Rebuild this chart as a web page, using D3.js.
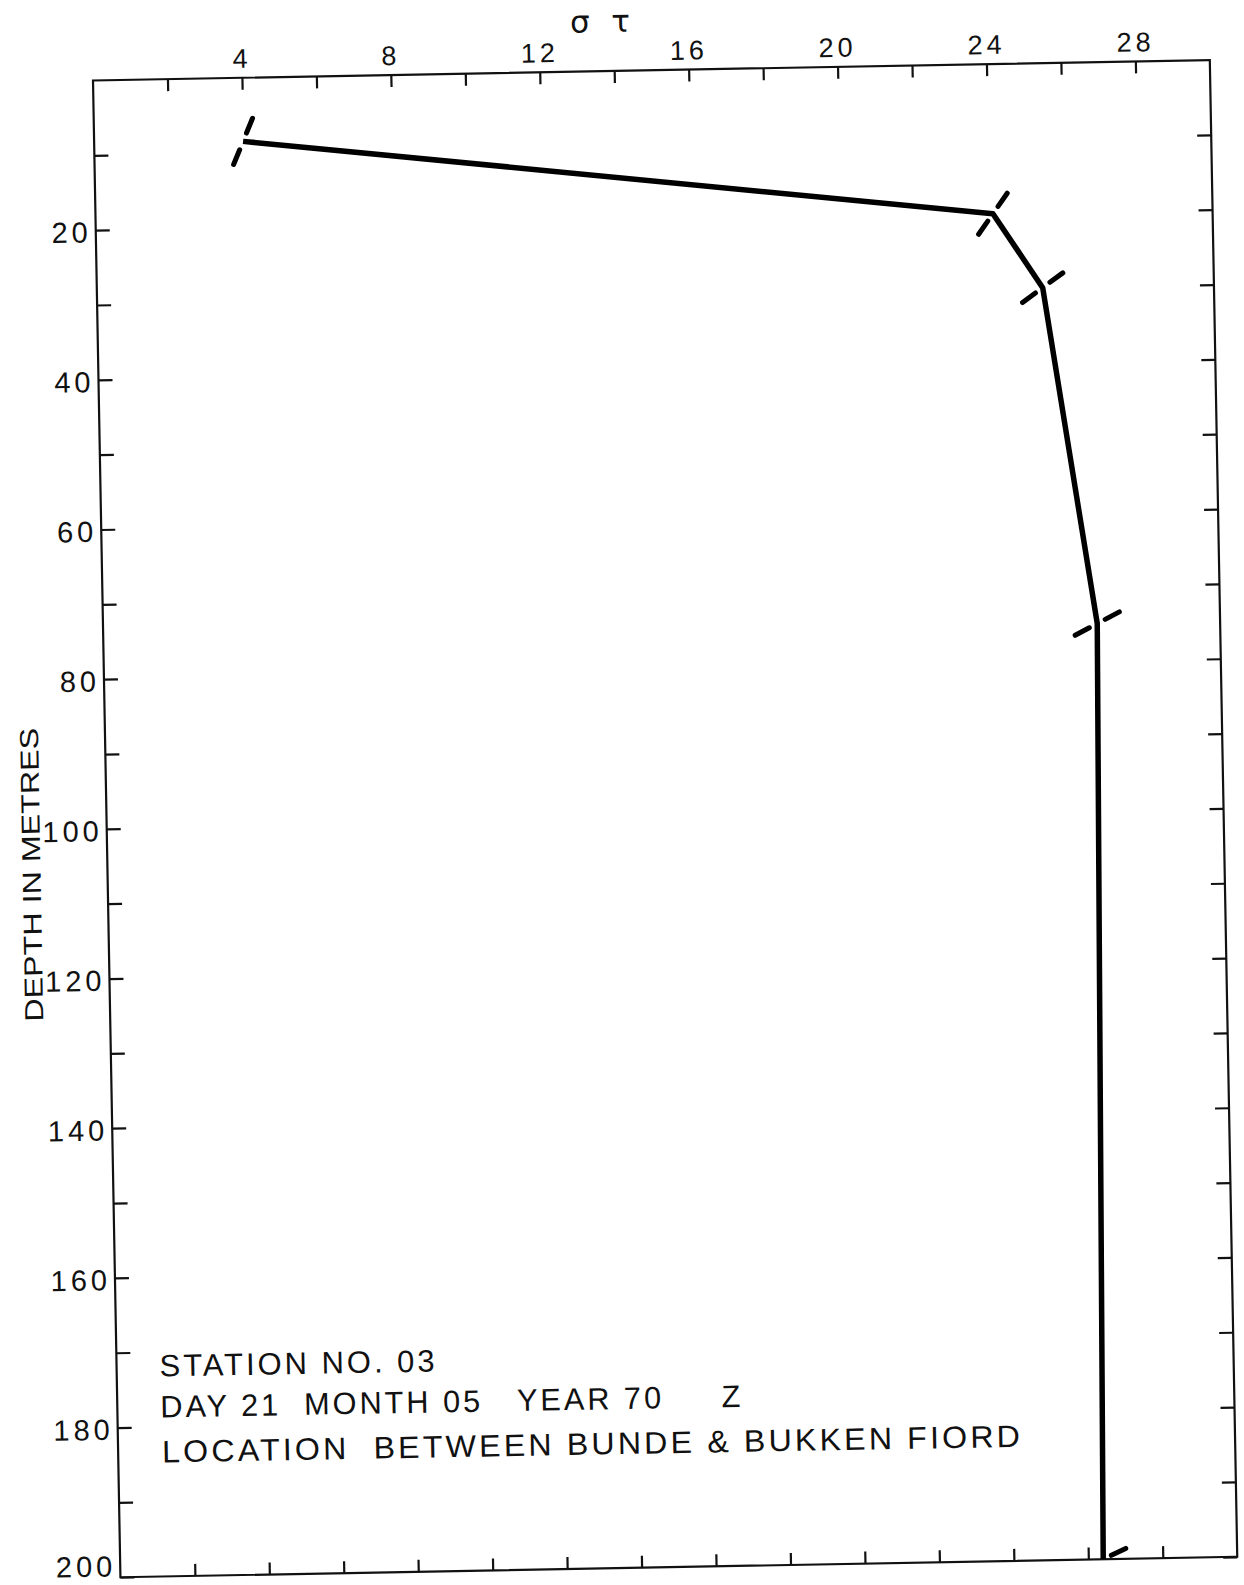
<!DOCTYPE html>
<html>
<head>
<meta charset="utf-8">
<script src="https://cdn.jsdelivr.net/npm/d3@7/dist/d3.min.js"></script>
<style>
  html, body { margin: 0; padding: 0; background: #fff; }
  svg { display: block; }
  text { font-family: "Liberation Sans", "DejaVu Sans", sans-serif; fill: #111; }
</style>
</head>
<body>
<svg id="chart" width="1244" height="1585"></svg>
<script>
// Sigma-t profile, station 03
const depthM   = [8.5, 20, 30, 75, 200];
const sigmaT   = [4.0, 24.1, 25.4, 26.7, 26.4];

// Axis ticks
const xTicks      = [2, 4, 6, 8, 10, 12, 14, 16, 18, 20, 22, 24, 26, 28];
const xTickLabels = [4, 8, 12, 16, 20, 24, 28];
const yTicks      = [10, 20, 30, 40, 50, 60, 70, 80, 90, 100, 110, 120, 130, 140, 150, 160, 170, 180, 190, 200];
const yTickLabels = [20, 40, 60, 80, 100, 120, 140, 160, 180, 200];

// Annotation block
const infoLines = [
  "STATION NO. 03",
  "DAY 21  MONTH 05   YEAR 70     Z",
  "LOCATION  BETWEEN BUNDE & BUKKEN FIORD"
];

const W = 1117, H = 1497;
const svg = d3.select("#chart");
svg.append("rect").attr("width", 1244).attr("height", 1585).attr("fill", "#fff");

// the plotted sheet sits at a slight tilt
const g = svg.append("g").attr("transform", "translate(93,80.5) rotate(-1.05)");

const x = d3.scaleLinear().domain([0, 30]).range([0, W]);
const y = d3.scaleLinear().domain([0, 200]).range([0, H]);

g.append("defs").append("clipPath").attr("id", "plotClip")
  .append("rect").attr("width", W).attr("height", H);

// frame
g.append("rect").attr("width", W).attr("height", H)
  .attr("fill", "none").attr("stroke", "#111").attr("stroke-width", 2.2);

function styleAxis(sel) {
  sel.select(".domain").remove();
  sel.selectAll(".tick line").attr("stroke", "#111").attr("stroke-width", 2.2);
  sel.attr("font-family", null).attr("font-size", null);
  sel.selectAll("text").style("font-size", "27px").attr("letter-spacing", 4).attr("fill", "#111");
}

g.append("g")
  .call(d3.axisTop(x).tickValues(xTicks).tickSize(-12).tickPadding(10)
    .tickFormat(d => xTickLabels.includes(d) ? d : ""))
  .call(styleAxis);

g.append("g").attr("transform", `translate(0,${H})`)
  .call(d3.axisBottom(x).tickValues(xTicks).tickSize(-12).tickFormat(""))
  .call(styleAxis);

const left = g.append("g")
  .call(d3.axisLeft(y).tickValues(yTicks).tickSize(-14).tickPadding(4)
    .tickFormat(d => yTickLabels.includes(d) ? d : ""))
  .call(styleAxis);
left.selectAll("text")
  .style("font-size", "29px").attr("letter-spacing", 4)
  .attr("dy", d => d === 200 ? "-0.05em" : "0.4em");

g.append("g").attr("transform", `translate(${W},0)`)
  .call(d3.axisRight(y).tickValues(yTicks).tickSize(-14).tickFormat(""))
  .call(styleAxis);

// axis titles
g.append("text")
  .attr("x", 478).attr("y", -39)
  .style("font-family", "'DejaVu Sans', sans-serif")
  .style("font-size", "31px")
  .attr("textLength", 60).attr("lengthAdjust", "spacing")
  .style("white-space", "pre")
  .text("σ τ");

g.append("text")
  .attr("transform", `translate(-67,793) rotate(-90)`)
  .attr("text-anchor", "middle")
  .style("font-size", "26px")
  .attr("textLength", 294).attr("lengthAdjust", "spacingAndGlyphs")
  .text("DEPTH IN METRES");

// profile line
const pts = depthM.map((d, i) => [x(sigmaT[i]), y(d)]);
const plot = g.append("g").attr("clip-path", "url(#plotClip)");

plot.append("path")
  .attr("d", d3.line()(pts))
  .attr("fill", "none").attr("stroke", "#000")
  .attr("stroke-width", 5.5).attr("stroke-linejoin", "round").attr("stroke-linecap", "butt");

// slash markers across the line at each observation
pts.forEach((p, i) => {
  let vx = 0, vy = 0;
  const add = (a, b) => {
    const dx = b[0] - a[0], dy = b[1] - a[1], L = Math.hypot(dx, dy);
    vx += dx / L; vy += dy / L;
  };
  if (i > 0) add(pts[i - 1], p);
  if (i < pts.length - 1) add(p, pts[i + 1]);
  const dir = Math.atan2(vy, vx) * 180 / Math.PI;
  const ang = ((dir - 90) + (-50)) / 2 * Math.PI / 180;
  const ux = Math.cos(ang), uy = Math.sin(ang);
  [[9, 25], [-9, -25]].forEach(([r0, r1]) => {
    plot.append("line")
      .attr("x1", p[0] + ux * r0).attr("y1", p[1] + uy * r0)
      .attr("x2", p[0] + ux * r1).attr("y2", p[1] + uy * r1)
      .attr("stroke", "#000").attr("stroke-width", 5).attr("stroke-linecap", "round");
  });
});

// station annotation
const infoLayout = [
  { u: 43, v: 1297, w: 278 },
  { u: 43, v: 1338, w: 583 },
  { u: 44, v: 1383, w: 861 }
];
infoLines.forEach((t, i) => {
  const L = infoLayout[i];
  g.append("text")
    .attr("x", L.u).attr("y", L.v)
    .style("font-size", "31px").attr("letter-spacing", 3)
    .attr("textLength", L.w).attr("lengthAdjust", "spacingAndGlyphs")
    .style("white-space", "pre")
    .text(t);
});
</script>
</body>
</html>
